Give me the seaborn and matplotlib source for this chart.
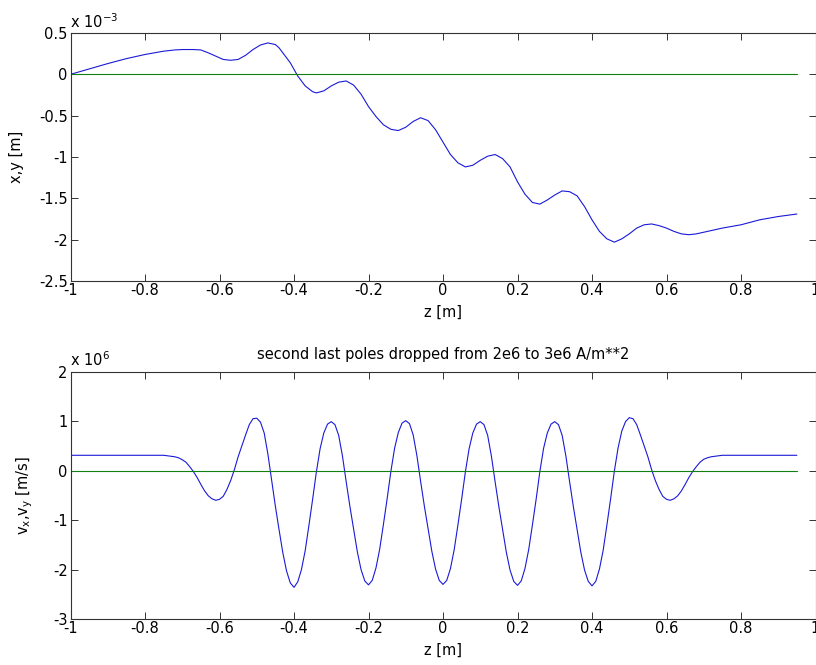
import numpy as np
import pandas as pd
import matplotlib
matplotlib.use("Agg")
import matplotlib.pyplot as plt
import seaborn as sns

# ---------------- data ----------------
# top panel: transverse position x,y (units of 1e-3 m)
z_pos = [-1.00, -0.95, -0.90, -0.85, -0.80, -0.75, -0.72, -0.70, -0.67, -0.65,
         -0.63, -0.61, -0.59, -0.57, -0.55, -0.53, -0.51, -0.49, -0.47, -0.45,
         -0.44, -0.43, -0.41, -0.39, -0.37, -0.35, -0.34, -0.32, -0.30, -0.28,
         -0.26, -0.24, -0.22, -0.20, -0.18, -0.16, -0.14, -0.12, -0.10, -0.08,
         -0.06, -0.04, -0.02, 0.00, 0.02, 0.04, 0.06, 0.08, 0.10, 0.12,
         0.14, 0.16, 0.18, 0.20, 0.22, 0.24, 0.26, 0.28, 0.30, 0.32,
         0.34, 0.36, 0.38, 0.40, 0.42, 0.44, 0.46, 0.48, 0.50, 0.52,
         0.54, 0.56, 0.58, 0.60, 0.62, 0.64, 0.66, 0.68, 0.70, 0.75,
         0.80, 0.85, 0.90, 0.95]
x_pos = [0.00, 0.065, 0.13, 0.19, 0.24, 0.28, 0.295, 0.30, 0.30, 0.295,
         0.26, 0.22, 0.18, 0.17, 0.18, 0.23, 0.30, 0.355, 0.38, 0.36,
         0.32, 0.26, 0.14, -0.02, -0.14, -0.21, -0.225, -0.20, -0.14, -0.095,
         -0.08, -0.13, -0.24, -0.39, -0.51, -0.61, -0.665, -0.68, -0.64, -0.57,
         -0.525, -0.56, -0.67, -0.82, -0.97, -1.07, -1.12, -1.10, -1.04, -0.99,
         -0.97, -1.02, -1.12, -1.30, -1.45, -1.55, -1.57, -1.52, -1.46, -1.41,
         -1.42, -1.47, -1.60, -1.76, -1.90, -1.99, -2.03, -1.99, -1.93, -1.86,
         -1.82, -1.81, -1.83, -1.86, -1.90, -1.93, -1.94, -1.93, -1.91, -1.86,
         -1.82, -1.76, -1.72, -1.69]
y_pos = [0.0] * len(z_pos)

# bottom panel: transverse velocity vx,vy (units of 1e6 m/s)
z_vel = [-1.00] + [round(-0.75 + 0.01 * i, 2) for i in range(151)] + [0.95]
vx_vel = [0.31,
          0.31, 0.30, 0.29, 0.28, 0.26, 0.22, 0.17, 0.08, -0.02, -0.14,
          -0.28, -0.41, -0.51, -0.57, -0.60, -0.58, -0.52, -0.38, -0.20, 0.02,
          0.28, 0.50, 0.72, 0.93, 1.05, 1.06,
          0.98, 0.76, 0.33, -0.20, -0.72, -1.20, -1.66, -2.03, -2.27, -2.36,
          -2.25, -2.00, -1.62, -1.11, -0.58, -0.03, 0.44, 0.76, 0.94, 0.99,
          0.93, 0.71, 0.30, -0.22, -0.72, -1.18, -1.64, -2.00, -2.23, -2.31,
          -2.22, -1.97, -1.59, -1.09, -0.57, -0.02, 0.45, 0.77, 0.96, 1.01,
          0.95, 0.72, 0.30, -0.22, -0.72, -1.18, -1.63, -1.99, -2.22, -2.30,
          -2.22, -1.98, -1.60, -1.10, -0.58, -0.03, 0.44, 0.76, 0.94, 0.99,
          0.93, 0.71, 0.29, -0.23, -0.73, -1.19, -1.65, -2.01, -2.24, -2.32,
          -2.23, -1.98, -1.60, -1.10, -0.58, -0.02, 0.45, 0.76, 0.94, 0.99,
          0.93, 0.71, 0.29, -0.23, -0.73, -1.19, -1.65, -2.01, -2.24, -2.33,
          -2.24, -1.99, -1.61, -1.10, -0.57, -0.01, 0.46, 0.80, 0.99, 1.07,
          1.05, 0.93, 0.72, 0.50, 0.28, 0.02, -0.20, -0.38, -0.52, -0.58,
          -0.60, -0.57, -0.51, -0.41, -0.28, -0.14, -0.02, 0.08, 0.17, 0.23,
          0.26, 0.28, 0.29, 0.30, 0.31,
          0.31]
vy_vel = [0.0] * len(z_vel)

x_ticks = [-1, -0.8, -0.6, -0.4, -0.2, 0, 0.2, 0.4, 0.6, 0.8, 1]
x_ticklabels = ["-1", "-0.8", "-0.6", "-0.4", "-0.2", "0", "0.2", "0.4", "0.6", "0.8", "1"]
top_yticks = [0.5, 0, -0.5, -1, -1.5, -2, -2.5]
top_yticklabels = ["0.5", "0", "-0.5", "-1", "-1.5", "-2", "-2.5"]
bot_yticks = [2, 1, 0, -1, -2, -3]
bot_yticklabels = ["2", "1", "0", "-1", "-2", "-3"]

title_text = "second last poles dropped from 2e6 to 3e6 A/m**2"

# ---------------- style ----------------
sns.set_theme(style="ticks")
plt.rcParams["font.family"] = ["DejaVu Sans"]
plt.rcParams["mathtext.fontset"] = "dejavusans"
plt.rcParams["mathtext.default"] = "regular"
plt.rcParams["axes.unicode_minus"] = False
plt.rcParams["text.color"] = "black"
plt.rcParams["axes.labelcolor"] = "black"

BLUE = "#1a1ad8"
GREEN = "#118011"
FS = 10.5

fig = plt.figure(figsize=(8.16, 6.65), dpi=100)
W, H = 816, 665
left_px, right_px = 70.5, 815.5
ax1 = fig.add_axes([left_px / W, (H - 281) / H, (right_px - left_px) / W, (281 - 33) / H])
ax2 = fig.add_axes([left_px / W, (H - 619) / H, (right_px - left_px) / W, (619 - 371.7) / H])

df_pos = pd.DataFrame({"z": z_pos, "x": x_pos, "y": y_pos})
df_vel = pd.DataFrame({"z": z_vel, "vx": vx_vel, "vy": vy_vel})

sns.lineplot(data=df_pos, x="z", y="x", ax=ax1, color=BLUE, lw=0.8, sort=False, estimator=None)
sns.lineplot(data=df_pos, x="z", y="y", ax=ax1, color=GREEN, lw=0.8, sort=False, estimator=None)
sns.lineplot(data=df_vel, x="z", y="vx", ax=ax2, color=BLUE, lw=0.8, sort=False, estimator=None)
sns.lineplot(data=df_vel, x="z", y="vy", ax=ax2, color=GREEN, lw=0.8, sort=False, estimator=None)

for ax, yt, ytl, ylim in [(ax1, top_yticks, top_yticklabels, (-2.5, 0.5)),
                          (ax2, bot_yticks, bot_yticklabels, (-3, 2))]:
    ax.set_xlim(-1, 1)
    ax.set_ylim(*ylim)
    ax.set_xticks(x_ticks)
    ax.set_xticklabels(x_ticklabels)
    ax.set_yticks(yt)
    ax.set_yticklabels(ytl)
    ax.tick_params(direction="in", length=5.2, width=0.7, colors="#333333",
                   labelcolor="black", labelsize=FS, top=True, right=True, pad=2)
    ax.tick_params(axis="x", pad=1.5)
    for s in ax.spines.values():
        s.set_visible(True)
        s.set_linewidth(0.8)
        s.set_color("#333333")
    ax.set_xlabel("z [m]", fontsize=FS, labelpad=5, color="black")
    ax.grid(False)

ax1.set_ylabel("x,y [m]", fontsize=FS, color="black")
ax1.yaxis.set_label_coords(-0.062, 0.5)
ax2.set_ylabel("v$_x$,v$_y$ [m/s]", fontsize=FS, color="black")
ax2.yaxis.set_label_coords(-0.048, 0.5)

ax1.text(0.0, 1.01, "x 10$^{-3}$", transform=ax1.transAxes, fontsize=FS,
         ha="left", va="bottom", color="black")
ax2.text(0.0, 1.01, "x 10$^{6}$", transform=ax2.transAxes, fontsize=FS,
         ha="left", va="bottom", color="black")
ax2.set_title(title_text, fontsize=10.5, pad=9, color="black")

fig.savefig("out.png", dpi=100)
